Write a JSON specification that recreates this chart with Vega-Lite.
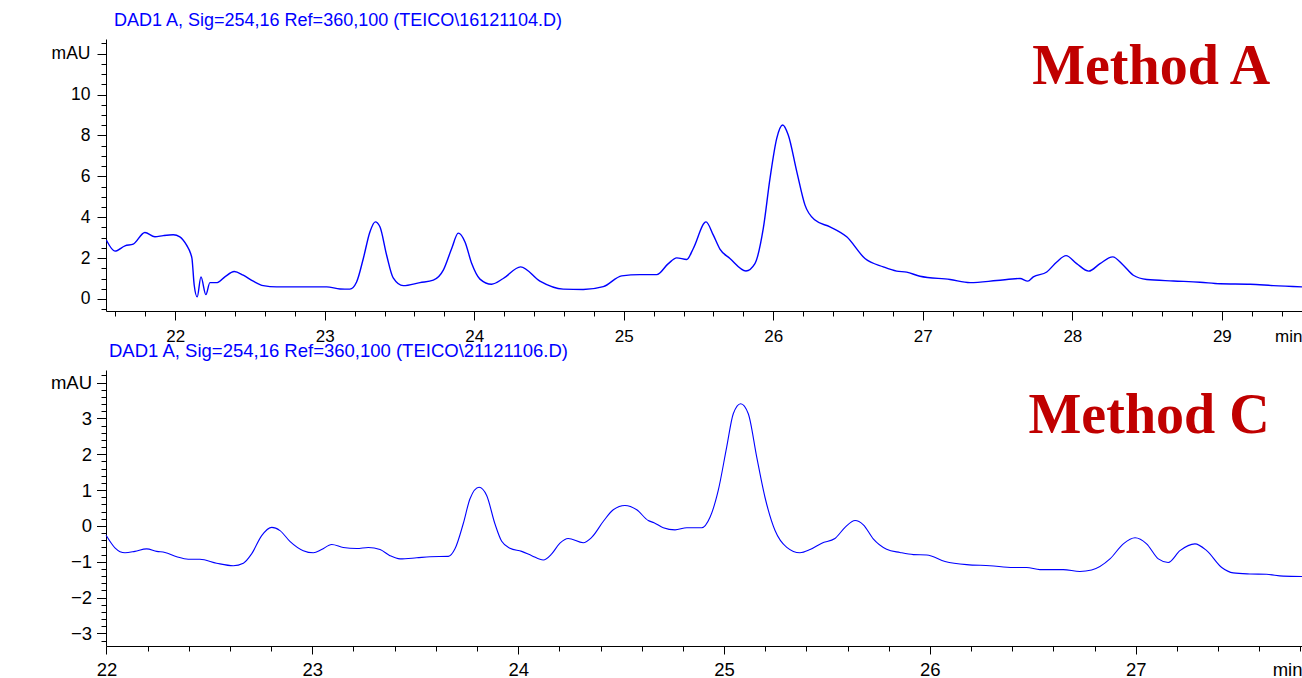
{
  "$schema": "https://vega.github.io/schema/vega-lite/v6.json",
  "background": "white",
  "padding": {"left": 50, "top": 11, "right": 0, "bottom": 0},
  "spacing": -2,
  "config": {
    "view": {"stroke": null},
    "axis": {"domainColor": "black", "tickColor": "black", "labelColor": "black", "grid": false, "labelFont": "Liberation Sans", "titleFont": "Liberation Sans", "domainWidth": 1, "tickWidth": 1}
  },
  "datasets": {
    "methodA": [
      {"t": 21.54, "v": 2.87}, {"t": 21.597, "v": 2.34}, {"t": 21.664, "v": 2.6}, {"t": 21.719, "v": 2.68}, {"t": 21.797, "v": 3.25},
      {"t": 21.864, "v": 3.04}, {"t": 21.92, "v": 3.1}, {"t": 21.987, "v": 3.14}, {"t": 22.031, "v": 3.04}, {"t": 22.076, "v": 2.63},
      {"t": 22.103, "v": 2.22}, {"t": 22.112, "v": 1.98}, {"t": 22.127, "v": 0.67}, {"t": 22.147, "v": 0.1}, {"t": 22.172, "v": 1.08},
      {"t": 22.205, "v": 0.21}, {"t": 22.232, "v": 0.8}, {"t": 22.281, "v": 0.8}, {"t": 22.332, "v": 1.08}, {"t": 22.395, "v": 1.34},
      {"t": 22.455, "v": 1.16}, {"t": 22.522, "v": 0.87}, {"t": 22.589, "v": 0.65}, {"t": 22.678, "v": 0.59}, {"t": 22.834, "v": 0.59},
      {"t": 23.013, "v": 0.59}, {"t": 23.102, "v": 0.49}, {"t": 23.168, "v": 0.48}, {"t": 23.213, "v": 0.83}, {"t": 23.258, "v": 1.98},
      {"t": 23.302, "v": 3.28}, {"t": 23.338, "v": 3.77}, {"t": 23.369, "v": 3.53}, {"t": 23.414, "v": 2.14}, {"t": 23.458, "v": 1.03},
      {"t": 23.525, "v": 0.65}, {"t": 23.637, "v": 0.8}, {"t": 23.726, "v": 0.92}, {"t": 23.793, "v": 1.41}, {"t": 23.849, "v": 2.47},
      {"t": 23.893, "v": 3.22}, {"t": 23.938, "v": 2.79}, {"t": 23.983, "v": 1.73}, {"t": 24.038, "v": 0.97}, {"t": 24.116, "v": 0.72},
      {"t": 24.194, "v": 1.0}, {"t": 24.31, "v": 1.57}, {"t": 24.439, "v": 0.87}, {"t": 24.595, "v": 0.48}, {"t": 24.729, "v": 0.46},
      {"t": 24.863, "v": 0.6}, {"t": 24.986, "v": 1.13}, {"t": 25.108, "v": 1.19}, {"t": 25.22, "v": 1.19}, {"t": 25.298, "v": 1.73},
      {"t": 25.354, "v": 2.01}, {"t": 25.421, "v": 1.93}, {"t": 25.465, "v": 2.47}, {"t": 25.55, "v": 3.77}, {"t": 25.599, "v": 3.12},
      {"t": 25.643, "v": 2.44}, {"t": 25.71, "v": 1.98}, {"t": 25.817, "v": 1.37}, {"t": 25.877, "v": 1.73}, {"t": 25.933, "v": 3.45},
      {"t": 25.978, "v": 5.9}, {"t": 26.023, "v": 7.86}, {"t": 26.063, "v": 8.51}, {"t": 26.1, "v": 8.02}, {"t": 26.157, "v": 6.23},
      {"t": 26.212, "v": 4.59}, {"t": 26.279, "v": 3.86}, {"t": 26.379, "v": 3.53}, {"t": 26.491, "v": 3.04}, {"t": 26.613, "v": 1.98},
      {"t": 26.736, "v": 1.57}, {"t": 26.825, "v": 1.36}, {"t": 26.892, "v": 1.31}, {"t": 26.981, "v": 1.11}, {"t": 27.182, "v": 0.95},
      {"t": 27.316, "v": 0.8}, {"t": 27.494, "v": 0.9}, {"t": 27.65, "v": 1.0}, {"t": 27.702, "v": 0.87}, {"t": 27.739, "v": 1.08},
      {"t": 27.829, "v": 1.32}, {"t": 27.896, "v": 1.81}, {"t": 27.958, "v": 2.12}, {"t": 28.029, "v": 1.73}, {"t": 28.11, "v": 1.36},
      {"t": 28.185, "v": 1.73}, {"t": 28.27, "v": 2.06}, {"t": 28.341, "v": 1.65}, {"t": 28.408, "v": 1.16}, {"t": 28.498, "v": 0.95},
      {"t": 28.676, "v": 0.88}, {"t": 28.854, "v": 0.82}, {"t": 28.988, "v": 0.74}, {"t": 29.189, "v": 0.72}, {"t": 29.344, "v": 0.65},
      {"t": 29.536, "v": 0.59}
    ],
    "methodC": [
      {"t": 21.998, "v": -0.26}, {"t": 22.041, "v": -0.61}, {"t": 22.09, "v": -0.75}, {"t": 22.138, "v": -0.71}, {"t": 22.195, "v": -0.64},
      {"t": 22.244, "v": -0.71}, {"t": 22.284, "v": -0.74}, {"t": 22.341, "v": -0.86}, {"t": 22.397, "v": -0.93}, {"t": 22.454, "v": -0.93},
      {"t": 22.535, "v": -1.04}, {"t": 22.616, "v": -1.11}, {"t": 22.665, "v": -1.04}, {"t": 22.705, "v": -0.78}, {"t": 22.754, "v": -0.27},
      {"t": 22.803, "v": -0.04}, {"t": 22.843, "v": -0.13}, {"t": 22.891, "v": -0.43}, {"t": 22.956, "v": -0.69}, {"t": 23.005, "v": -0.75},
      {"t": 23.045, "v": -0.66}, {"t": 23.094, "v": -0.52}, {"t": 23.15, "v": -0.6}, {"t": 23.216, "v": -0.63}, {"t": 23.272, "v": -0.6},
      {"t": 23.329, "v": -0.66}, {"t": 23.377, "v": -0.83}, {"t": 23.426, "v": -0.92}, {"t": 23.507, "v": -0.89}, {"t": 23.572, "v": -0.86},
      {"t": 23.661, "v": -0.85}, {"t": 23.693, "v": -0.64}, {"t": 23.733, "v": 0.06}, {"t": 23.766, "v": 0.76}, {"t": 23.81, "v": 1.08},
      {"t": 23.847, "v": 0.85}, {"t": 23.887, "v": 0.06}, {"t": 23.92, "v": -0.43}, {"t": 23.96, "v": -0.62}, {"t": 24.017, "v": -0.71},
      {"t": 24.066, "v": -0.83}, {"t": 24.122, "v": -0.95}, {"t": 24.163, "v": -0.78}, {"t": 24.203, "v": -0.48}, {"t": 24.243, "v": -0.35},
      {"t": 24.316, "v": -0.47}, {"t": 24.357, "v": -0.32}, {"t": 24.414, "v": 0.13}, {"t": 24.462, "v": 0.45}, {"t": 24.519, "v": 0.57},
      {"t": 24.576, "v": 0.45}, {"t": 24.632, "v": 0.15}, {"t": 24.66, "v": 0.09}, {"t": 24.705, "v": -0.05}, {"t": 24.762, "v": -0.11},
      {"t": 24.819, "v": -0.05}, {"t": 24.892, "v": -0.05}, {"t": 24.932, "v": 0.24}, {"t": 24.972, "v": 0.99}, {"t": 25.013, "v": 2.2},
      {"t": 25.045, "v": 3.13}, {"t": 25.081, "v": 3.41}, {"t": 25.118, "v": 3.13}, {"t": 25.159, "v": 1.92}, {"t": 25.199, "v": 0.8},
      {"t": 25.248, "v": -0.13}, {"t": 25.305, "v": -0.6}, {"t": 25.369, "v": -0.75}, {"t": 25.418, "v": -0.66}, {"t": 25.475, "v": -0.48},
      {"t": 25.539, "v": -0.35}, {"t": 25.588, "v": -0.04}, {"t": 25.637, "v": 0.15}, {"t": 25.677, "v": 0.03}, {"t": 25.725, "v": -0.36},
      {"t": 25.79, "v": -0.65}, {"t": 25.855, "v": -0.74}, {"t": 25.92, "v": -0.8}, {"t": 25.985, "v": -0.81}, {"t": 26.074, "v": -0.99},
      {"t": 26.179, "v": -1.08}, {"t": 26.292, "v": -1.11}, {"t": 26.405, "v": -1.16}, {"t": 26.47, "v": -1.16}, {"t": 26.535, "v": -1.22},
      {"t": 26.648, "v": -1.22}, {"t": 26.729, "v": -1.27}, {"t": 26.786, "v": -1.23}, {"t": 26.875, "v": -0.92}, {"t": 26.94, "v": -0.5},
      {"t": 26.997, "v": -0.33}, {"t": 27.053, "v": -0.5}, {"t": 27.11, "v": -0.92}, {"t": 27.158, "v": -1.02}, {"t": 27.215, "v": -0.69},
      {"t": 27.288, "v": -0.5}, {"t": 27.345, "v": -0.69}, {"t": 27.418, "v": -1.16}, {"t": 27.474, "v": -1.31}, {"t": 27.555, "v": -1.34},
      {"t": 27.636, "v": -1.35}, {"t": 27.717, "v": -1.4}, {"t": 27.808, "v": -1.41}
    ]
  },
  "vconcat": [
    {
      "width": 1196,
      "height": 272,
      "title": {"text": "DAD1 A, Sig=254,16 Ref=360,100 (TEICO\\16121104.D)", "anchor": "start", "frame": "group", "dx": 8, "offset": -4.5, "baseline": "alphabetic", "font": "Liberation Sans", "fontSize": 18, "fontWeight": "normal", "color": "#0000FF"},
      "layer": [
        {
          "data": {"name": "methodA"},
          "mark": {"type": "line", "color": "#0000FF", "strokeWidth": 1.4, "interpolate": "monotone"},
          "encoding": {
            "x": {"field": "t", "type": "quantitative", "scale": {"domain": [21.537, 29.536], "nice": false, "zero": false},
              "axis": {"orient": "bottom", "values": [22, 23, 24, 25, 26, 27, 28, 29], "format": "d", "tickSize": 9, "labelPadding": 8, "labelFontSize": 17, "labelFlush": false,
                "title": "min", "titleX": 1196, "titleY": 17, "titleAlign": "right", "titleBaseline": "top", "titleFontSize": 17, "titleFontWeight": "normal", "titleColor": "black"}},
            "y": {"field": "v", "type": "quantitative", "scale": {"domain": [-0.59, 12.72], "nice": false, "zero": false},
              "axis": {"orient": "left", "values": [0, 2, 4, 6, 8, 10, 12], "labelExpr": "datum.value == 12 ? 'mAU' : datum.label", "tickSize": 9, "labelPadding": 7, "labelFontSize": 17.5, "title": null, "minExtent": 56, "maxExtent": 56}}
          }
        },
        {
          "data": {"values": [{"label": "Method A", "t": 28.527, "v": 10.5}]},
          "mark": {"type": "text", "font": "Liberation Serif", "fontWeight": "bold", "fontSize": 56, "color": "#C00000", "align": "center", "baseline": "alphabetic"},
          "encoding": {
            "x": {"field": "t", "type": "quantitative",
              "axis": {"orient": "bottom", "values": [21.6, 21.8, 22.2, 22.4, 22.6, 22.8, 23.2, 23.4, 23.6, 23.8, 24.2, 24.4, 24.6, 24.8, 25.2, 25.4, 25.6, 25.8, 26.2, 26.4, 26.6, 26.8, 27.2, 27.4, 27.6, 27.8, 28.2, 28.4, 28.6, 28.8, 29.2, 29.4], "tickSize": 5, "labels": false, "domain": false, "title": null}},
            "y": {"field": "v", "type": "quantitative",
              "axis": {"orient": "left", "values": [-0.5, 0.5, 1, 1.5, 2.5, 3, 3.5, 4.5, 5, 5.5, 6.5, 7, 7.5, 8.5, 9, 9.5, 10.5, 11, 11.5, 12.5], "tickSize": 5, "labels": false, "domain": false, "title": null}},
            "text": {"field": "label"}
          }
        }
      ],
      "resolve": {"axis": {"x": "independent", "y": "independent"}}
    },
    {
      "width": 1196,
      "height": 276,
      "title": {"text": "DAD1 A, Sig=254,16 Ref=360,100 (TEICO\\21121106.D)", "anchor": "start", "frame": "group", "dx": 3, "offset": -5.5, "baseline": "alphabetic", "font": "Liberation Sans", "fontSize": 18.5, "fontWeight": "normal", "color": "#0000FF"},
      "layer": [
        {
          "data": {"name": "methodC"},
          "mark": {"type": "line", "color": "#0000FF", "strokeWidth": 1.1, "interpolate": "monotone"},
          "encoding": {
            "x": {"field": "t", "type": "quantitative", "scale": {"domain": [21.9976, 27.808], "nice": false, "zero": false},
              "axis": {"orient": "bottom", "values": [22, 23, 24, 25, 26, 27], "format": "d", "tickSize": 8, "labelPadding": 6, "labelFontSize": 18.5, "labelFlush": false,
                "title": "min", "titleX": 1196, "titleY": 14, "titleAlign": "right", "titleBaseline": "top", "titleFontSize": 18.5, "titleFontWeight": "normal", "titleColor": "black"}},
            "y": {"field": "v", "type": "quantitative", "scale": {"domain": [-3.35, 4.35], "nice": false, "zero": false},
              "axis": {"orient": "left", "values": [-3, -2, -1, 0, 1, 2, 3, 4], "labelExpr": "datum.value == 4 ? 'mAU' : datum.label", "tickSize": 9.5, "labelPadding": 5, "labelFontSize": 18.5, "title": null, "minExtent": 56, "maxExtent": 56}}
          }
        },
        {
          "data": {"values": [{"label": "Method C", "t": 27.065, "v": 2.6}]},
          "mark": {"type": "text", "font": "Liberation Serif", "fontWeight": "bold", "fontSize": 56, "color": "#C00000", "align": "center", "baseline": "alphabetic"},
          "encoding": {
            "x": {"field": "t", "type": "quantitative",
              "axis": {"orient": "bottom", "values": [22.2, 22.4, 22.6, 22.8, 23.2, 23.4, 23.6, 23.8, 24.2, 24.4, 24.6, 24.8, 25.2, 25.4, 25.6, 25.8, 26.2, 26.4, 26.6, 26.8, 27.2, 27.4, 27.6, 27.8], "tickSize": 5, "labels": false, "domain": false, "title": null}},
            "y": {"field": "v", "type": "quantitative",
              "axis": {"orient": "left", "values": [-3.2, -2.8, -2.6, -2.4, -2.2, -1.8, -1.6, -1.4, -1.2, -0.8, -0.6, -0.4, -0.2, 0.2, 0.4, 0.6, 0.8, 1.2, 1.4, 1.6, 1.8, 2.2, 2.4, 2.6, 2.8, 3.2, 3.4, 3.6, 3.8, 4.2], "tickSize": 5, "labels": false, "domain": false, "title": null}},
            "text": {"field": "label"}
          }
        }
      ],
      "resolve": {"axis": {"x": "independent", "y": "independent"}}
    }
  ]
}
